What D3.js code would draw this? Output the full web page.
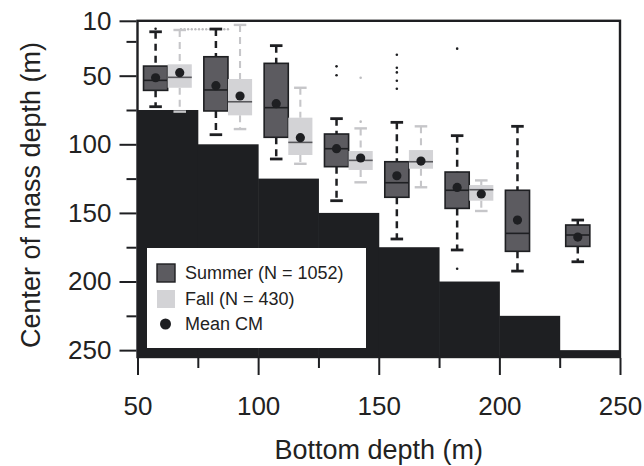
<!DOCTYPE html>
<html lang="en">
<head>
<meta charset="UTF-8">
<script src="https://d3js.org/d3.v7.min.js"></script>
<style>
  body { margin: 0; background: #fff; }
  svg { display: block; font-family: "Liberation Sans", Arial, Helvetica, sans-serif; }
</style>
<title>Center of mass depth</title>
</head>
<body>
<svg id="chart" width="644" height="466"></svg>
<script>
// bottom-depth bins (left edge) and the sea floor drawn for each bin
const binStart = [50, 75, 100, 125, 150, 175, 200, 225];
const floorDepth = [75, 100, 125, 150, 175, 200, 225, 250];

// summer boxes: whisker top, q1, median, q3, whisker bottom, mean (one per bin)
const summerLo = [18, 16, 28.1, 81.3, 84, 93.7, 86.9, 155.2];
const summerQ1 = [43, 36.2, 41, 92.5, 112.7, 120.2, 133.5, 158.8];
const summerMed = [53.4, 60.4, 73.3, 103.2, 128, 133.5, 164.9, 166.1];
const summerQ3 = [60.7, 75.7, 94.9, 116.3, 138.6, 146.7, 178, 174.4];
const summerHi = [72.6, 93, 110.7, 141.1, 169, 177, 192.4, 185.6];
const summerMean = [51.5, 57.3, 70.4, 103.2, 122.9, 131.4, 155.2, 167.6];
const summerOut = [[15.8], [], [], [43.2, 49.7], [34.7, 44.2, 47.6, 53.7, 59.5], [30.3, 190.7], [], []];

// fall boxes (first six bins only)
const fallLo = [16.7, 13, 58.8, 88.4, 86.9, 126.3];
const fallQ1 = [41.7, 52.4, 80.6, 104.9, 104.2, 129.7];
const fallMed = [51.2, 69, 98.6, 111.7, 112.7, 133.1];
const fallQ3 = [58.8, 78.9, 107.8, 118.7, 117.8, 141.1];
const fallHi = [76.2, 88.9, 114.2, 127.7, 131.3, 148.6];
const fallMean = [47.8, 64.8, 95.2, 110, 112.2, 136.2];
const fallOut = [[], [], [], [51.5, 83.5], [], []];

// row of shallow points near the top
const shallowX = [68, 69.5, 71, 72.5, 74, 75.5, 77, 78.5, 80, 81.5, 83, 84.5, 86, 87.5];
const shallowY = 16.2;

const xMajor = [50, 100, 150, 200, 250];
const xMinor = [75, 125, 175, 225];
const yMajor = [10, 50, 100, 150, 200, 250];
const yMinor = [25, 75, 125, 175, 225];

const legendItems = ["Summer (N = 1052)", "Fall (N = 430)", "Mean CM"];

const svg = d3.select("#chart");
const x = d3.scaleLinear().domain([50, 250]).range([137.5, 620]);
const y = d3.scaleLinear().domain([10, 255]).range([20.8, 357]);

const ink = "#1e1f22";
const summerFill = "#5c5b60";
const fallFill = "#d3d3d6";
const fallLine = "#c6c6c9";

// sea floor
const floor = svg.append("g");
binStart.forEach((b, i) => {
    floor.append("rect")
        .attr("x", x(b))
        .attr("y", y(floorDepth[i]))
        .attr("width", x(b + 25) - x(b) + 0.5)
        .attr("height", y(255) - y(floorDepth[i]))
        .attr("fill", ink);
});

// boxes
function drawBox(g, cx, lo, q1, med, q3, hi, mean, outs, summer) {
    const half = 5, cap = 2.6;
    const col = summer ? ink : fallLine;
    const lw = summer ? 2.5 : 2.1;
    [[lo, q1], [q3, hi]].forEach(([a, b]) => {
        g.append("line")
            .attr("x1", x(cx)).attr("x2", x(cx))
            .attr("y1", y(a)).attr("y2", y(b))
            .attr("stroke", col).attr("stroke-width", lw)
            .attr("stroke-dasharray", "7,5");
    });
    [lo, hi].forEach(v => {
        g.append("line")
            .attr("x1", x(cx - cap)).attr("x2", x(cx + cap))
            .attr("y1", y(v)).attr("y2", y(v))
            .attr("stroke", col).attr("stroke-width", lw + 0.3);
    });
    g.append("rect")
        .attr("x", x(cx - half)).attr("y", y(q1))
        .attr("width", x(cx + half) - x(cx - half))
        .attr("height", y(q3) - y(q1))
        .attr("fill", summer ? summerFill : fallFill)
        .attr("stroke", summer ? ink : "none")
        .attr("stroke-width", 1.6);
    g.append("line")
        .attr("x1", x(cx - half)).attr("x2", x(cx + half))
        .attr("y1", y(med)).attr("y2", y(med))
        .attr("stroke", summer ? ink : "#58585c").attr("stroke-width", 1.6);
    outs.forEach(v => {
        g.append("circle")
            .attr("cx", x(cx)).attr("cy", y(v)).attr("r", 1.3)
            .attr("fill", summer ? ink : "#bdbdc0");
    });
    g.append("circle")
        .attr("cx", x(cx)).attr("cy", y(mean)).attr("r", 4.6)
        .attr("fill", ink);
}

const boxes = svg.append("g");
shallowX.forEach(v => {
    boxes.append("circle")
        .attr("cx", x(v)).attr("cy", y(shallowY)).attr("r", 1.2)
        .attr("fill", "#bcbcbf");
});
binStart.forEach((b, i) => {
    drawBox(boxes, b + 7.5, summerLo[i], summerQ1[i], summerMed[i], summerQ3[i],
        summerHi[i], summerMean[i], summerOut[i], true);
    if (i < fallLo.length) {
        drawBox(boxes, b + 17.5, fallLo[i], fallQ1[i], fallMed[i], fallQ3[i],
            fallHi[i], fallMean[i], fallOut[i], false);
    }
});

// legend
const leg = svg.append("g");
leg.append("rect").attr("x", 147).attr("y", 248).attr("width", 219).attr("height", 100)
    .attr("fill", "#fff");
leg.append("rect").attr("x", 157).attr("y", 264).attr("width", 18).attr("height", 18)
    .attr("fill", summerFill).attr("stroke", ink).attr("stroke-width", 1.4);
leg.append("rect").attr("x", 157).attr("y", 290).attr("width", 18).attr("height", 18)
    .attr("fill", fallFill);
leg.append("circle").attr("cx", 165.5).attr("cy", 324).attr("r", 5.5).attr("fill", ink);
legendItems.forEach((t, i) => {
    leg.append("text")
        .attr("x", 185).attr("y", 279 + i * 25.5)
        .attr("font-size", 18).attr("fill", "#222")
        .text(t);
});

// frame
svg.append("rect")
    .attr("x", x(50)).attr("y", y(10))
    .attr("width", x(250) - x(50)).attr("height", y(255) - y(10))
    .attr("fill", "none").attr("stroke", ink).attr("stroke-width", 2.4);

// axes
function styleAxis(g) {
    g.select(".domain").remove();
    g.selectAll(".tick line").attr("stroke", ink).attr("stroke-width", 2);
    g.selectAll(".tick text").attr("fill", "#222").attr("font-size", 26)
        .attr("font-family", "\"Liberation Sans\", Arial, sans-serif");
}

svg.append("g").attr("transform", `translate(${x(50) - 1},0)`)
    .call(d3.axisLeft(y).tickValues(yMajor).tickSize(17).tickPadding(8))
    .call(styleAxis);
svg.append("g").attr("transform", `translate(${x(50) - 1},0)`)
    .call(d3.axisLeft(y).tickValues(yMinor).tickSize(10).tickFormat(""))
    .call(styleAxis);

svg.append("g").attr("transform", `translate(0,${y(255) + 1})`)
    .call(d3.axisBottom(x).tickValues(xMajor).tickSize(17).tickPadding(22))
    .call(styleAxis);
svg.append("g").attr("transform", `translate(0,${y(255) + 1})`)
    .call(d3.axisBottom(x).tickValues(xMinor).tickSize(10).tickFormat(""))
    .call(styleAxis);

// titles
svg.append("text")
    .attr("x", (x(50) + x(250)) / 2).attr("y", 459)
    .attr("text-anchor", "middle").attr("font-size", 27).attr("fill", "#222")
    .text("Bottom depth (m)");
svg.append("text")
    .attr("transform", `translate(40,195) rotate(-90)`)
    .attr("text-anchor", "middle").attr("font-size", 27).attr("fill", "#222")
    .text("Center of mass depth (m)");
</script>
</body>
</html>
